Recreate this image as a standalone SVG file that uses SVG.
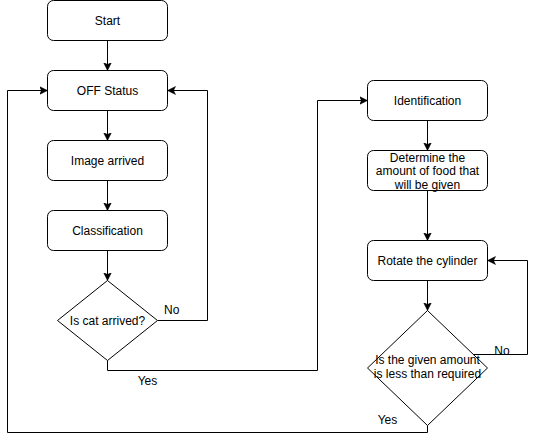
<svg xmlns="http://www.w3.org/2000/svg" width="536" height="442" viewBox="0 0 536 442">
<style>
.box{fill:#fff;stroke:#000;stroke-width:1}
.t{font-family:"Liberation Sans",Arial,sans-serif;font-size:12px;fill:#000;text-anchor:middle}
.l{font-family:"Liberation Sans",Arial,sans-serif;font-size:12px;fill:#000}
.c{fill:none;stroke:#000;stroke-width:1}
</style>
<defs>
<marker id="arr" markerUnits="userSpaceOnUse" markerWidth="10" markerHeight="10" refX="8" refY="4" orient="auto" viewBox="0 0 10 8">
<path d="M0,0 L8,4 L0,8 L2,4 z" fill="#000" stroke="#000" stroke-width="0.5"/>
</marker>
</defs>
<rect width="536" height="442" fill="#fff"/>
<g id="connectors">
<path class="c" d="M107.5,40.5 V70.5" marker-end="url(#arr)"/>
<path class="c" d="M107.5,110.5 V140.5" marker-end="url(#arr)"/>
<path class="c" d="M107.5,180.5 V210.5" marker-end="url(#arr)"/>
<path class="c" d="M107.5,250.5 V280.5" marker-end="url(#arr)"/>
<path class="c" d="M157.5,320.5 H207.5 V90.5 H167.5" marker-end="url(#arr)"/>
<path class="c" d="M107.5,360.5 V370.5 H317.5 V100.5 H367.5" marker-end="url(#arr)"/>
<path class="c" d="M427.5,120.5 V150.5" marker-end="url(#arr)"/>
<path class="c" d="M427.5,190.5 V240.5" marker-end="url(#arr)"/>
<path class="c" d="M427.5,280.5 V310.5" marker-end="url(#arr)"/>
<path class="c" d="M473,354.5 H527.5 V260.5 H487.5" marker-end="url(#arr)"/>
<path class="c" d="M427.5,425.5 V432.5 H7.5 V90.5 H47.5" marker-end="url(#arr)"/>
<text class="l" x="164" y="314">No</text>
<text class="t" x="147.5" y="385">Yes</text>
<text class="t" x="502" y="355">No</text>
<text class="t" x="387.5" y="424">Yes</text>
</g>
<g id="start"><rect class="box" x="47.5" y="0.5" width="120" height="40" rx="6"/><text class="t" x="107.5" y="24.5">Start</text></g>
<g id="off"><rect class="box" x="47.5" y="70.5" width="120" height="40" rx="6"/><text class="t" x="107.5" y="94.5">OFF Status</text></g>
<g id="image"><rect class="box" x="47.5" y="140.5" width="120" height="40" rx="6"/><text class="t" x="107.5" y="164.5">Image arrived</text></g>
<g id="classification"><rect class="box" x="47.5" y="210.5" width="120" height="40" rx="6"/><text class="t" x="107.5" y="234.5">Classification</text></g>
<g id="catdecision"><path class="box" d="M107.5,280.5 L157.5,320.5 L107.5,360.5 L57.5,320.5 Z"/><text class="t" x="107.5" y="324.5">Is cat arrived?</text></g>
<g id="identification"><rect class="box" x="367.5" y="80.5" width="120" height="40" rx="6"/><text class="t" x="427.5" y="104.5">Identification</text></g>
<g id="determine"><rect class="box" x="367.5" y="150.5" width="120" height="40" rx="6"/><text class="t" x="427.5" y="161.5">Determine the</text><text class="t" x="427.5" y="175">amount of food that</text><text class="t" x="427.5" y="188.5">will be given</text></g>
<g id="rotate"><rect class="box" x="367.5" y="240.5" width="120" height="40" rx="6"/><text class="t" x="427.5" y="264.5">Rotate the cylinder</text></g>
<g id="amountdecision"><path class="box" d="M427.5,310.5 L487.5,368 L427.5,425.5 L367.5,368 Z"/><text class="t" x="427.5" y="364">Is the given amount</text><text class="t" x="427.5" y="378">is less than required</text></g>
</svg>
